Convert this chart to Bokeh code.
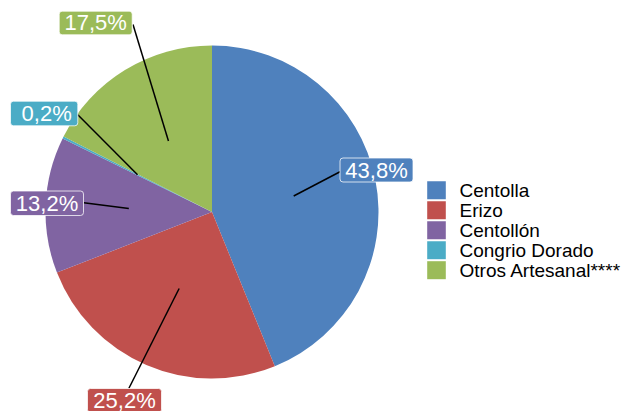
import numpy as np
from bokeh.plotting import figure
from bokeh.models import Range1d
from bokeh.core.properties import value
from bokeh.embed import file_html
from bokeh.resources import INLINE

# ---- data ----
categories = ["Centolla", "Erizo", "Centollón", "Congrio Dorado", "Otros Artesanal****"]
shares = [43.8, 25.2, 13.2, 0.2, 17.5]
labels = ["43,8%", "25,2%", "13,2%", "0,2%", "17,5%"]
colors = ["#4F81BD", "#C0504D", "#8064A2", "#4BACC6", "#9BBB59"]

# ---- layout (screen px; data y = -screen y) ----
W, H = 631, 411
cx, cy, R = 211.5, 211.5, 166.5
# label boxes: left, right, top, bottom
box_l = [339.5, 87.0, 10.0, 10.0, 58.7]
box_r = [412.5, 161.0, 83.0, 77.3, 131.7]
box_t = [157.5, 388.0, 190.5, 100.7, 10.7]
box_b = [181.5, 412.0, 215.0, 125.3, 34.3]
text_dx = [0, 0, 0, 2.5, 0]
# leader outer ends
lead_x = [340.0, 128.3, 83.3, 77.3, 132.5]
lead_y = [171.0, 388.0, 202.3, 114.3, 24.0]

p = figure(width=W, height=H, output_backend="svg", toolbar_location=None,
           x_range=Range1d(0, W), y_range=Range1d(-H, 0),
           min_border=0, tools="")
p.axis.visible = False
p.grid.visible = False
p.outline_line_color = None
p.background_fill_color = "white"
p.border_fill_color = "white"

vals = np.array(shares, dtype=float)
frac = vals / vals.sum()
cum = np.concatenate([[0], np.cumsum(frac)])
start = np.pi / 2 - 2 * np.pi * cum[1:]
end = np.pi / 2 - 2 * np.pi * cum[:-1]
p.wedge(x=cx, y=-cy, radius=R, start_angle=list(start), end_angle=list(end),
        direction="anticlock", fill_color=colors, line_color=None)

# leader lines from half radius at mid angle
mid = np.pi / 2 - 2 * np.pi * (cum[:-1] + frac / 2)
ix = cx + 0.5 * R * np.cos(mid)
iy = -cy + 0.5 * R * np.sin(mid)
p.segment(x0=list(ix), y0=list(iy), x1=lead_x, y1=[-v for v in lead_y],
          line_color="black", line_width=1.5)

# label boxes
p.quad(left=box_l, right=box_r, top=[-v for v in box_t], bottom=[-v for v in box_b],
       fill_color=colors, line_color="white", line_alpha=0.75, line_width=1,
       border_radius=3)
tx = [(l + r) / 2 + d for l, r, d in zip(box_l, box_r, text_dx)]
ty = [-(b - 12.0) for b in box_b]
p.text(x=tx, y=ty, text=labels, text_color="white", text_font=value("Liberation Sans"),
       text_font_size="22px", text_align="center", text_baseline="middle")

# legend
n = len(categories)
sq_t = [180.7 + 20 * i for i in range(n)]
p.quad(left=[426.7] * n, right=[445.3] * n, top=[-t for t in sq_t],
       bottom=[-(t + 18) for t in sq_t], fill_color=colors, line_color=None)
p.text(x=[459] * n, y=[-(t + 9.5) for t in sq_t], text=categories, text_color="black",
       text_font=value("Liberation Sans"), text_font_size="19px",
       text_align="left", text_baseline="middle")

open("out.html", "w").write(file_html(p, INLINE))
